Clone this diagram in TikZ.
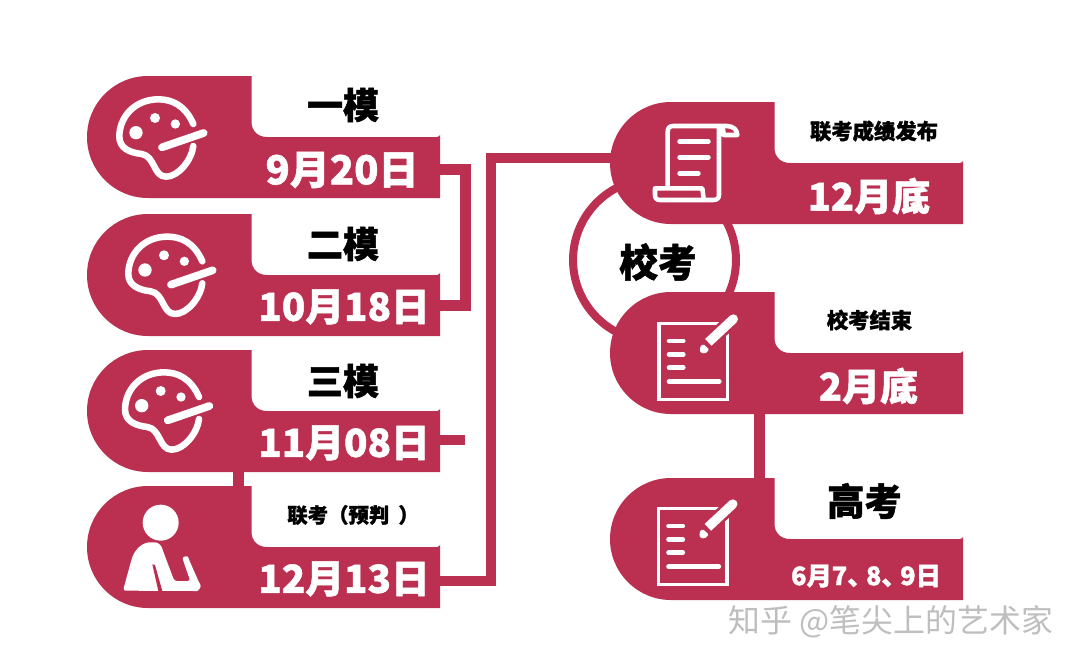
\documentclass[tikz,border=0pt]{standalone}
\usepackage{fontspec}
\setmainfont{Noto Sans CJK SC}[BoldFeatures={FakeBold=1.3}]
\definecolor{brand}{RGB}{187,48,80}
\definecolor{wm}{RGB}{190,190,190}
\tikzset{
  panelbox/.style={minimum width=264.75pt,minimum height=91.5pt,inner sep=0pt,outer sep=0pt,anchor=north west},
  conn/.style={draw=brand,line width=8.1pt},
  blacklabel/.style={inner sep=0pt,text=black},
  datelabel/.style={inner sep=0pt,text=white},
  iconline/.style={draw=white,line cap=round,line join=round},
}
\newcommand{\fs}[1]{\bfseries\fontsize{#1}{#1}\selectfont}
\newcommand{\panelat}[3]{%
  \node[panelbox] (#1) at (#2,#3) {};
  \fill[brand,shift={(#2,#3)}] (61,0) -- (164.5,0) -- (164.5,46) .. controls (164.5,55) and (171,61) .. (180,61) -- (350,61) .. controls (351.5,61) and (352,60) .. (353,59) -- (353,122) -- (61,122) .. controls (27.3,122) and (0,94.7) .. (0,61) .. controls (0,27.3) and (27.3,0) .. (61,0) -- cycle;
}
\newcommand{\palette}[2]{%
  \begin{scope}[shift={(#1,#2)},x=0.25pt,y=-0.25pt]
    \draw[iconline,line width=4.9pt] (340,192) .. controls (315,135) and (275,118) .. (235,118) .. controls (165,118) and (118,170) .. (118,230) .. controls (118,265) and (150,278) .. (185,282) .. controls (225,288) and (220,350) .. (258,350) .. controls (295,350) and (335,300) .. (340,258);
    \draw[iconline,line width=5.8pt] (246,262) -- (371,219);
    \fill[white] (168,218) circle[radius=20] (225,174) circle[radius=15] (286,192) circle[radius=14];
  \end{scope}}
\newcommand{\notepad}[2]{%
  \begin{scope}[shift={(#1,#2)},x=0.25pt,y=-0.25pt]
    \draw[draw=white,line width=2.5pt] (27,55) rectangle (232,283);
    \draw[brand,line width=11pt,line cap=round] (172,115) -- (250,42);
    \draw[white,line width=7pt,line cap=round] (250,42) -- (190,98);
    \draw[white,line width=7pt] (190,98) -- (175,112);
    \fill[white,rounded corners=1pt] (150,125) -- (160,117) -- (178,134) -- (165,146) -- (150,142) -- cycle;
    \draw[iconline,line width=3.4pt] (57,108) -- (100,108) (57,148) -- (100,148) (57,188) -- (100,188) (57,230) -- (208,230);
  \end{scope}}
\begin{document}
\begin{tikzpicture}[x=0.75pt,y=-0.75pt]
\useasboundingbox (0,0) rectangle (1080,667);
\fill[white] (0,0) rectangle (1080,667);
\node[circle,draw=brand,line width=6pt,minimum size=122.2pt,inner sep=0pt] (ring) at (654.5,260) {};
\coordinate (a1) at (438,169.5);
\coordinate (a2) at (438,305.5);
\coordinate (b1) at (465.5,169.5);
\coordinate (a3) at (438,440);
\coordinate (a3e) at (465,440);
\coordinate (a4) at (438,581);
\coordinate (m1) at (491,581);
\coordinate (m2) at (491,158);
\coordinate (r1) at (615,158);
\draw[conn] (a1) -- (b1) |- (a2);
\draw[conn] (a3) -- (a3e);
\draw[conn] (a4) -- (m1) -- (m2) -- (r1);
\panelat{p1}{87}{76}
\panelat{p2}{87}{214}
\panelat{p3}{87}{350}
\panelat{p4}{87}{486}
\panelat{q1}{610}{102}
\panelat{q2}{610}{292}
\panelat{q3}{610}{478}
\coordinate (c3) at (238.7,470);
\coordinate (c4) at (238.7,488);
\draw[conn] (c3) -- (c4);
\coordinate (e2) at (759.5,412);
\coordinate (e3) at (759.5,480);
\draw[conn] (e2) -- (e3);
\palette{80}{60}
\palette{89}{197.3}
\palette{85.7}{333}
\begin{scope}[shift={(115,495)},x=0.25pt,y=-0.25pt]
  \fill[white] (137,83) circle[radius=54];
  \fill[white,rounded corners=2pt] (24,287) -- (50,192) .. controls (62,160) and (85,142) .. (112,142) .. controls (128,142) and (138,150) .. (143,165) -- (178,258) -- (226,258) -- (205,198) .. controls (202,184) and (218,182) .. (222,194) -- (252,262) .. controls (260,275) and (250,288) .. (238,288) -- cycle;
  \fill[brand] (112,208) -- (120,210) -- (142,288) -- (130,288) -- cycle;
\end{scope}
\begin{scope}[shift={(645,115)},x=0.25pt,y=-0.25pt]
  \draw[iconline,line width=3.4pt] (68,215) -- (68,52) .. controls (68,40) and (72,33) .. (85,33) -- (245,33) .. controls (265,33) and (277,45) .. (277,60) -- (236,60) .. controls (236,45) and (232,33) .. (222,33) (222,33) -- (222,240) .. controls (222,250) and (215,255) .. (205,255) -- (45,255) .. controls (35,255) and (30,250) .. (30,240) -- (30,220) -- (172,220) -- (176,252);
  \draw[iconline,line width=3.6pt] (104,80) -- (190,80) (104,127) -- (190,127) (104,175) -- (160,175);
\end{scope}
\notepad{650}{305}
\notepad{649.5}{490}
\node[blacklabel,font=\fs{27}] (t1) at (343,105) {一模};
\node[blacklabel,font=\fs{27}] (t2) at (343,244) {二模};
\node[blacklabel,font=\fs{27}] (t3) at (343,381) {三模};
\node[blacklabel,font=\fs{15.3},anchor=west] (t4) at (287,515) {联考（预判\kern .45em）};
\node[datelabel,font=\fs{30}] (d1) at (342,170) {9月20日};
\node[datelabel,font=\fs{29}] (d2) at (344,307) {10月18日};
\node[datelabel,font=\fs{29}] (d3) at (344,443) {11月08日};
\node[datelabel,font=\fs{29}] (d4) at (344,579) {12月13日};
\node[blacklabel,font=\fs{16}] (u1) at (874,131) {联考成绩发布};
\node[blacklabel,font=\fs{16}] (u2) at (869.5,320) {校考结束};
\node[blacklabel,font=\fs{29}] (u3) at (658,262) {校考};
\node[blacklabel,font=\fs{28}] (u4) at (864.5,501) {高考};
\node[datelabel,font=\fs{28.5}] (f1) at (869,196) {12月底};
\node[datelabel,font=\fs{28.5}] (f2) at (868.5,386) {2月底};
\node[datelabel,font=\fs{19}] (f3) at (866,576) {6月7、\kern-.26em 8、\kern-.26em 9日};
\node[inner sep=0pt,text=wm,font=\fontsize{23.9}{23.9}\selectfont] (w) at (891,622) {知乎 @笔尖上的艺术家};
\end{tikzpicture}
\end{document}
